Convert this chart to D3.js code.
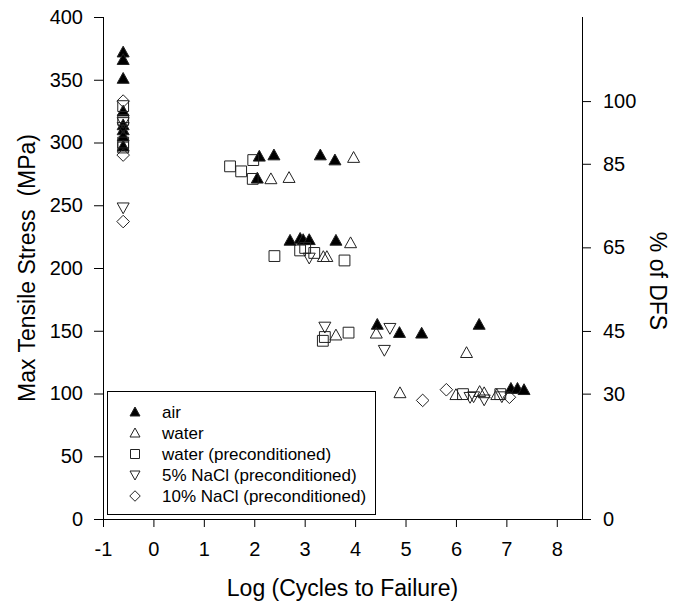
<!DOCTYPE html>
<html>
<head>
<meta charset="utf-8">
<script src="https://cdn.jsdelivr.net/npm/d3@7"></script>
<style>
    body { margin: 0; background: #fff; }
    svg { font-family: Arial, "Liberation Sans", sans-serif; }
    .axis path, .axis line { stroke: #000; }
    .axis text { font-size: 20px; fill: #000; }
</style>
</head>
<body>
<div id="chart"></div>
<script>

// ---- data: [log cycles, max tensile stress] ----
let air = [
    [-0.6, 372], [-0.6, 366], [-0.6, 351], [-0.6, 325], [-0.6, 314], [-0.6, 310], [-0.6, 305], [-0.6, 297],
    [2.10, 289], [2.39, 290], [2.06, 271.5], [3.31, 290], [3.60, 286],
    [2.71, 222], [2.91, 223.5], [2.97, 222.5], [3.09, 222.5], [3.62, 222],
    [4.44, 155], [4.88, 148.5], [5.32, 148], [6.46, 155],
    [7.09, 104], [7.22, 104], [7.35, 103]
];
let water = [
    [2.33, 271], [2.69, 272], [3.97, 288],
    [3.37, 209], [3.44, 209], [3.91, 220],
    [3.62, 146.5], [4.42, 148], [6.21, 132.5],
    [4.89, 100.5], [6.00, 99], [6.47, 101.5], [6.56, 100.5], [6.81, 99]
];
let waterPre = [
    [-0.6, 329], [-0.6, 318], [-0.6, 300], [-0.6, 296],
    [1.52, 281], [1.74, 277], [1.98, 286], [1.97, 271],
    [2.40, 209.5], [2.91, 214], [3.01, 216], [3.19, 212], [3.79, 206],
    [3.40, 145], [3.36, 142], [3.87, 148.5],
    [6.14, 99.5], [6.88, 99.5]
];
let nacl5 = [
    [-0.6, 316], [-0.6, 312], [-0.6, 248],
    [3.09, 208],
    [3.40, 153], [4.69, 152], [4.58, 134.5],
    [6.28, 97], [6.35, 97.5], [6.56, 95], [6.91, 97.5]
];
let nacl10 = [
    [-0.6, 333], [-0.6, 290], [-0.6, 237],
    [5.34, 94.5], [5.81, 103], [7.06, 97]
];

let seriesNames = ["air", "water", "water (preconditioned)", "5% NaCl (preconditioned)", "10% NaCl (preconditioned)"];
let seriesShapes = ["triUp", "triUp", "square", "triDown", "diamond"];
let seriesFill = ["#000", "none", "none", "none", "none"];
let seriesData = [air, water, waterPre, nacl5, nacl10];

let xTicks = [-1, 0, 1, 2, 3, 4, 5, 6, 7, 8];
let yTicks = [0, 50, 100, 150, 200, 250, 300, 350, 400];
let dfsTicks = [0, 30, 45, 65, 85, 100];
let dfs = 333; // MPa = 100 %

// ---- layout ----
let width = 673, height = 605;
let svg = d3.select("#chart").append("svg")
    .attr("width", width)
    .attr("height", height);

let x = d3.scaleLinear().domain([-1, 8.5]).range([103, 582]);
let y = d3.scaleLinear().domain([0, 400]).range([519, 17]);
let yRight = d3.scaleLinear().domain([0, 400 / dfs * 100]).range([519, 17]);

// marker path, centred on 0,0
function shapePath(type, s) {
    let h = s / 2;
    if (type === "triUp") return `M0,${-h}L${h},${h * 0.8}L${-h},${h * 0.8}Z`;
    if (type === "triDown") return `M0,${h}L${h},${-h * 0.8}L${-h},${-h * 0.8}Z`;
    if (type === "square") return `M${-h * 0.9},${-h * 0.9}H${h * 0.9}V${h * 0.9}H${-h * 0.9}Z`;
    return `M0,${-h * 1.05}L${h * 1.05},0L0,${h * 1.05}L${-h * 1.05},0Z`;
}

// axes
svg.append("g")
    .attr("class", "axis")
    .attr("transform", `translate(0,${y(0)})`)
    .call(d3.axisBottom(x).tickValues(xTicks).tickSize(8).tickPadding(15).tickFormat(d => String(d)))
    .call(g => g.select(".domain").attr("d", `M${x(-1) - 9},0.5H${x(8.5)}`));

svg.append("g")
    .attr("class", "axis")
    .attr("transform", `translate(${x(-1)},0)`)
    .call(d3.axisLeft(y).tickValues(yTicks).tickSize(9).tickPadding(11))
    .call(g => g.select(".domain").attr("d", `M0.5,${y(0)}V${y(400)}`));

svg.append("g")
    .attr("class", "axis")
    .attr("transform", `translate(${x(8.5)},0)`)
    .call(d3.axisRight(yRight).tickValues(dfsTicks).tickSize(9).tickPadding(12))
    .call(g => g.select(".domain").attr("d", `M0.5,${y(0)}V${y(400)}`));

// axis titles
svg.append("text")
    .attr("x", (x(-1) + x(8.5)) / 2)
    .attr("y", 596)
    .attr("text-anchor", "middle")
    .style("font-size", "23px")
    .text("Log (Cycles to Failure)");

svg.append("text")
    .attr("transform", "translate(35,268) rotate(-90)")
    .attr("text-anchor", "middle")
    .style("font-size", "23px")
    .style("white-space", "pre")
    .text("Max Tensile Stress  (MPa)");

svg.append("text")
    .attr("transform", "translate(650,281) rotate(90)")
    .attr("text-anchor", "middle")
    .style("font-size", "23px")
    .text("% of DFS");

// points
seriesData.forEach((data, i) => {
    svg.append("g")
        .selectAll("path")
        .data(data)
        .join("path")
        .attr("d", shapePath(seriesShapes[i], 12))
        .attr("transform", d => `translate(${x(d[0])},${y(d[1])})`)
        .attr("fill", seriesFill[i])
        .attr("stroke", "#222")
        .attr("stroke-width", 1);
});

// legend
let legend = svg.append("g").attr("class", "legend");
legend.append("rect")
    .attr("x", 107.5).attr("y", 391.5)
    .attr("width", 268).attr("height", 123)
    .attr("fill", "#fff").attr("stroke", "#000");

let rows = legend.selectAll(".row")
    .data(seriesNames)
    .join("g")
    .attr("class", "row")
    .attr("transform", (d, i) => `translate(135,${412 + i * 21})`);

rows.append("path")
    .attr("d", (d, i) => shapePath(seriesShapes[i], 10))
    .attr("fill", (d, i) => seriesFill[i])
    .attr("stroke", "#222");

rows.append("text")
    .attr("x", 27)
    .attr("dy", "0.35em")
    .style("font-size", "17px")
    .text(d => d);

</script>
</body>
</html>
